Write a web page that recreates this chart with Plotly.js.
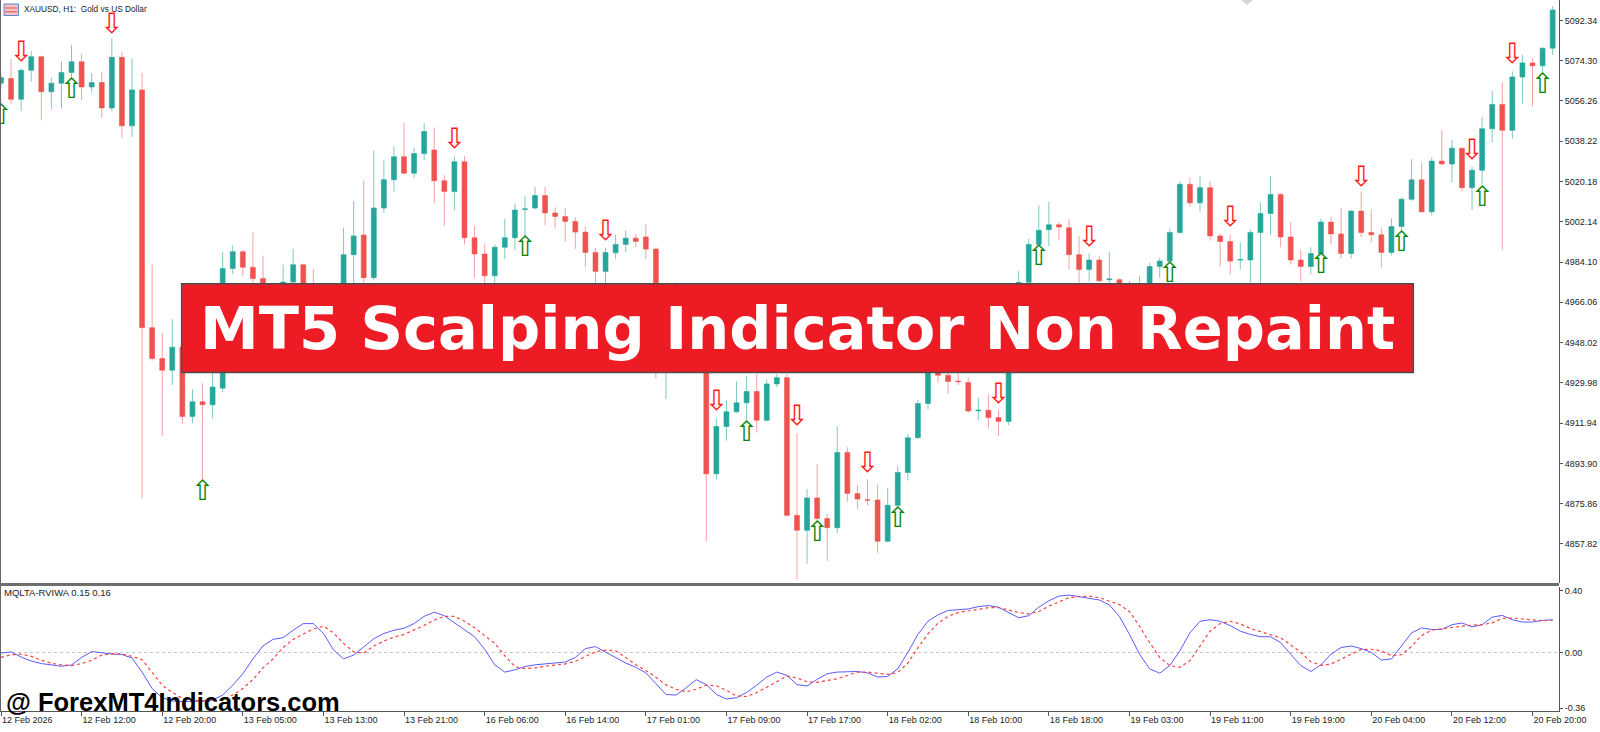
<!DOCTYPE html>
<html>
<head>
<meta charset="utf-8">
<script src="https://cdn.plot.ly/plotly-3.0.1.min.js"></script>
<style>
html, body { margin: 0; padding: 0; background: #fff; }
#chart { width: 1600px; height: 732px; }
</style>
</head>
<body>
<div id="chart"></div>
<script>
// XAUUSD H1 bars, bar 0 = first visible bar (12 Feb 2026)
var opens = [5064.2,5066.3,5057.0,5070.0,5076.1,5060.4,5064.2,5069.0,5073.8,5062.5,
 5064.5,5053.1,5075.8,5045.1,5061.2,4954.7,4940.9,4935.6,4945.9,4914.9,
 4921.5,4920.2,4927.6,4981.2,4988.7,4981.7,4976.7,4971.3,4968.0,4975.1,
 4982.9,4970.4,4965.0,4962.0,4966.0,4987.4,4996.2,4977.1,5008.3,5021.0,
 5031.3,5023.9,5032.7,5034.3,5020.5,5015.7,5029.0,4995.0,4987.7,4977.9,
 4990.7,4995.0,5007.6,5008.3,5013.9,5006.1,5004.5,5002.3,4997.5,4988.4,
 4979.9,4988.2,4992.0,4994.8,4995.3,4989.9,4952.0,4960.0,4970.0,4963.0,
 4958.0,4889.2,4910.4,4917.0,4921.0,4926.1,4913.2,4929.5,4932.3,4870.6,
 4863.9,4878.4,4869.2,4865.1,4898.8,4880.4,4877.6,4877.5,4859.0,4875.1,
 4889.8,4905.4,4920.7,4940.0,4933.4,4930.8,4930.1,4917.4,4917.7,4914.4,
 4912.7,4955.0,4975.0,4992.0,4998.6,5000.8,4999.5,4987.4,4980.7,4985.0,
 4976.2,4976.2,4966.0,4970.0,4967.0,4982.1,4984.5,4997.3,5018.9,5010.6,
 5017.4,4995.8,4993.3,4985.0,4985.0,4997.3,5005.8,5014.4,4995.3,4985.0,
 4982.1,4987.9,5002.0,4996.7,4987.9,5006.9,4997.3,4996.3,4988.4,5000.0,
 5012.2,5020.9,5006.6,5029.3,5028.0,5035.1,5017.4,5025.2,5043.8,5054.7,
 5043.1,5067.0,5073.3,5072.0,5079.9];
var highs = [5068.3,5075.0,5070.8,5078.6,5076.6,5066.7,5074.1,5081.3,5077.4,5068.8,
 5069.2,5084.4,5078.3,5075.3,5068.8,4982.9,4952.2,4958.5,4948.9,4927.0,
 4929.8,4935.6,4988.7,4991.7,4989.5,4997.3,4987.0,4974.0,4982.9,4990.0,
 4983.4,4980.9,4970.0,4974.6,4999.5,5011.4,5020.7,5034.0,5029.7,5036.0,
 5046.3,5035.1,5046.3,5044.3,5023.0,5031.3,5031.5,5000.3,4992.0,4992.0,
 5003.3,5010.3,5013.6,5017.7,5017.7,5008.6,5008.3,5004.0,5000.0,4990.4,
 4990.4,4996.5,4998.3,4996.7,5001.1,4990.7,4966.0,4975.0,4974.0,4968.0,
 4962.0,4914.0,4922.3,4930.6,4932.8,4933.9,4931.5,4933.9,4933.9,4907.4,
 4882.5,4893.6,4871.2,4910.4,4901.1,4884.2,4886.7,4884.5,4882.9,4892.8,
 4907.1,4922.3,4944.0,4945.0,4938.0,4934.0,4932.3,4923.2,4924.8,4917.7,
 4958.0,4980.0,4994.5,5009.4,5011.1,5002.0,5003.3,4995.7,4987.9,4986.7,
 4988.7,4976.7,4975.7,4977.9,4983.7,4985.9,4999.1,5020.2,5021.9,5022.4,
 5020.5,4996.6,4996.2,4992.8,4998.6,5010.6,5022.4,5014.9,5002.0,4989.5,
 4990.7,5003.6,5004.4,5008.3,5007.5,5015.6,5007.8,4999.5,5003.6,5013.0,
 5030.2,5028.5,5031.0,5043.1,5038.8,5035.3,5026.8,5049.2,5060.9,5064.7,
 5069.5,5076.9,5075.3,5080.2,5098.7];
var lows = [5061.7,5055.1,5051.7,5065.0,5047.6,5052.6,5052.9,5066.7,5056.7,5060.0,
 5048.7,5051.7,5039.8,5040.1,4878.4,4939.8,4906.1,4929.0,4911.6,4911.9,
 4886.7,4914.0,4925.7,4978.7,4977.9,4972.9,4966.0,4962.0,4965.0,4972.9,
 4966.0,4960.0,4956.0,4958.0,4962.0,4973.8,4970.0,4975.8,5006.1,5015.6,
 5023.5,5021.9,5029.7,5010.3,5000.3,5007.3,4992.0,4977.1,4972.1,4972.9,
 4985.4,4989.5,4995.8,5007.8,5000.6,4999.0,4993.3,4990.0,4981.7,4972.0,
 4972.0,4985.4,4988.7,4990.7,4985.4,4932.0,4922.7,4955.0,4958.0,4954.0,
 4859.0,4886.7,4904.1,4916.5,4913.2,4907.7,4913.0,4928.1,4870.0,4841.9,
 4849.0,4868.4,4850.2,4862.6,4876.7,4873.4,4875.1,4853.8,4858.5,4874.6,
 4886.2,4904.9,4918.2,4930.1,4925.1,4929.0,4916.5,4913.2,4909.4,4906.1,
 4911.0,4950.0,4972.0,4991.2,4991.2,4993.7,4980.7,4973.0,4975.4,4975.0,
 4970.0,4962.0,4962.0,4960.0,4964.0,4977.1,4984.0,4996.8,5008.9,5006.6,
 4993.7,4982.1,4978.4,4980.7,4972.0,4973.0,4996.2,4990.7,4982.9,4975.4,
 4978.7,4987.0,4992.0,4985.7,4985.7,4995.3,4992.8,4981.7,4987.0,4998.3,
 5011.5,5006.1,5005.0,5027.6,5019.7,5015.7,5007.3,5018.9,5037.6,4989.5,
 5039.3,5055.0,5053.9,5069.2,5076.9];
var closes = [5066.7,5057.0,5070.0,5076.1,5060.4,5064.2,5069.0,5073.8,5062.5,5064.5,
 5053.1,5075.8,5045.1,5061.2,4954.7,4940.9,4935.6,4945.9,4914.9,4921.5,
 4920.2,4928.1,4981.2,4988.7,4981.7,4976.7,4971.3,4968.0,4975.1,4982.9,
 4970.4,4965.0,4962.0,4966.0,4987.4,4995.8,4977.1,5008.3,5021.0,5031.3,
 5023.9,5032.7,5042.6,5020.5,5015.7,5029.0,4995.0,4987.7,4977.9,4990.7,
 4995.0,5007.4,5007.9,5013.9,5006.1,5004.5,5002.3,4997.5,4988.4,4979.9,
 4988.4,4992.0,4994.8,4993.3,4989.9,4952.0,4960.0,4970.0,4963.0,4958.0,
 4889.2,4910.4,4917.0,4921.0,4926.1,4913.2,4929.5,4932.3,4870.6,4863.9,
 4878.4,4869.2,4865.1,4898.8,4880.4,4877.9,4877.4,4859.0,4875.1,4889.8,
 4905.4,4920.7,4940.0,4933.4,4930.6,4930.5,4917.4,4917.7,4914.4,4912.7,
 4955.0,4975.0,4992.0,4998.3,5000.8,4999.8,4987.4,4980.7,4985.0,4975.7,
 4976.5,4968.0,4970.0,4967.0,4982.1,4984.5,4997.3,5018.9,5010.6,5017.4,
 4995.8,4993.3,4984.5,4985.2,4997.3,5005.8,5014.4,4995.3,4985.0,4982.1,
 4987.9,5002.0,4996.7,4987.9,5006.9,4997.3,4996.3,4988.4,5000.0,5012.2,
 5020.9,5006.6,5029.3,5028.0,5035.1,5017.4,5025.2,5043.8,5054.7,5043.1,
 5067.0,5073.3,5072.0,5079.9,5097.0];

// RVI indicator window (main line and signal line)
var rviMain = [-0.004,0.004,-0.030,-0.055,-0.072,-0.082,-0.089,-0.081,-0.032,0.006,
 -0.004,-0.010,-0.013,-0.036,-0.127,-0.234,-0.293,-0.314,-0.318,-0.318,
 -0.314,-0.308,-0.276,-0.212,-0.138,-0.042,0.042,0.085,0.096,0.144,
 0.187,0.187,0.123,0.017,-0.042,-0.017,0.038,0.089,0.123,0.144,
 0.157,0.187,0.234,0.261,0.238,0.191,0.149,0.102,0.021,-0.079,
 -0.127,-0.113,-0.091,-0.080,-0.074,-0.068,-0.062,-0.032,0.025,0.038,
 0.004,-0.032,-0.068,-0.096,-0.132,-0.202,-0.272,-0.276,-0.229,-0.176,
 -0.208,-0.272,-0.301,-0.293,-0.259,-0.212,-0.159,-0.127,-0.149,-0.208,
 -0.217,-0.174,-0.138,-0.127,-0.127,-0.123,-0.132,-0.159,-0.155,-0.106,
 0.000,0.117,0.202,0.244,0.272,0.276,0.282,0.297,0.304,0.293,
 0.259,0.225,0.238,0.293,0.335,0.365,0.372,0.361,0.350,0.340,
 0.308,0.234,0.117,-0.011,-0.106,-0.134,-0.085,0.011,0.127,0.202,
 0.212,0.202,0.174,0.138,0.117,0.102,0.102,0.064,-0.011,-0.085,
 -0.123,-0.081,-0.011,0.032,0.042,0.025,0.000,-0.049,-0.042,0.042,
 0.127,0.159,0.149,0.149,0.180,0.191,0.166,0.180,0.229,0.240,
 0.212,0.197,0.197,0.208,0.212];
var rviSignal = [-0.032,-0.015,-0.011,-0.025,-0.050,-0.070,-0.080,-0.085,-0.072,-0.050,
 -0.017,-0.008,-0.010,-0.025,-0.047,-0.127,-0.212,-0.259,-0.297,-0.308,
 -0.315,-0.314,-0.308,-0.276,-0.234,-0.175,-0.100,-0.042,0.032,0.085,
 0.117,0.153,0.170,0.127,0.059,0.004,-0.004,0.042,0.074,0.100,
 0.117,0.144,0.175,0.210,0.234,0.234,0.202,0.160,0.110,0.059,
 -0.021,-0.091,-0.105,-0.100,-0.089,-0.080,-0.074,-0.058,-0.025,0.005,
 0.015,0.011,-0.032,-0.079,-0.117,-0.160,-0.210,-0.238,-0.255,-0.238,
 -0.212,-0.215,-0.245,-0.282,-0.285,-0.260,-0.225,-0.191,-0.153,-0.165,
 -0.190,-0.193,-0.180,-0.170,-0.149,-0.127,-0.127,-0.136,-0.142,-0.130,
 -0.070,0.030,0.120,0.190,0.234,0.259,0.270,0.278,0.290,0.291,
 0.275,0.259,0.250,0.265,0.300,0.330,0.355,0.362,0.365,0.355,
 0.330,0.310,0.265,0.170,0.064,-0.032,-0.085,-0.096,-0.053,0.042,
 0.138,0.187,0.202,0.185,0.155,0.135,0.117,0.095,0.050,0.000,
 -0.060,-0.083,-0.075,-0.045,-0.011,0.020,0.021,0.010,-0.020,-0.015,
 0.040,0.110,0.145,0.155,0.162,0.170,0.177,0.180,0.192,0.220,
 0.223,0.218,0.212,0.206,0.208];

// signal arrows: bar index and price level
var sellBars = [2, 11, 45, 60, 71, 79, 86, 99, 108, 122, 135, 146, 150];
var sellLevels = [5077.4, 5089.8, 5038.1, 4997.3, 4921.0, 4914.0, 4893.3, 4924.3, 4994.5, 5003.3, 5021.5, 5033.5, 5076.3];
var buyBars = [0, 7, 20, 52, 74, 81, 89, 103, 116, 131, 139, 147, 153];
var buyLevels = [5049.2, 5060.5, 4880.5, 4990.0, 4907.1, 4862.3, 4868.4, 4985.9, 4978.2, 4982.4, 4992.3, 5012.4, 5063.0];

var timeTickBars = [0, 8, 16, 24, 32, 40, 48, 56, 64, 72, 80, 88, 96, 104, 112, 120, 128, 136, 144, 152];
var timeTickLabels = ['12 Feb 2026', '12 Feb 12:00', '12 Feb 20:00', '13 Feb 05:00', '13 Feb 13:00',
  '13 Feb 21:00', '16 Feb 06:00', '16 Feb 14:00', '17 Feb 01:00', '17 Feb 09:00', '17 Feb 17:00',
  '18 Feb 02:00', '18 Feb 10:00', '18 Feb 18:00', '19 Feb 03:00', '19 Feb 11:00', '19 Feb 19:00',
  '20 Feb 04:00', '20 Feb 12:00', '20 Feb 20:00'];
var priceTicks = [5092.34, 5074.30, 5056.26, 5038.22, 5020.18, 5002.14, 4984.10, 4966.06,
  4948.02, 4929.98, 4911.94, 4893.90, 4875.86, 4857.82];
var rviTicks = [0.40, 0.00, -0.36];

var bars = opens.map(function (o, i) { return i; });

var tickFont = {family: 'Liberation Sans, Arial, sans-serif', size: 9, color: '#222'};

var candles = {
  type: 'candlestick',
  x: bars, open: opens, high: highs, low: lows, close: closes,
  xaxis: 'x', yaxis: 'y',
  increasing: {line: {color: 'rgba(38,166,154,0.6)', width: 1}, fillcolor: '#26a69a'},
  decreasing: {line: {color: 'rgba(239,83,80,0.55)', width: 1}, fillcolor: '#ef5350'},
  hoverinfo: 'skip'
};

var sellArrows = {
  type: 'scatter', mode: 'text',
  x: sellBars, y: sellLevels,
  text: sellBars.map(function () { return '\u21E9'; }),
  textposition: 'middle center',
  textfont: {family: 'DejaVu Sans', size: 28, color: '#ff1a1a'},
  xaxis: 'x', yaxis: 'y', hoverinfo: 'skip'
};

var buyArrows = {
  type: 'scatter', mode: 'text',
  x: buyBars, y: buyLevels,
  text: buyBars.map(function () { return '\u21E7'; }),
  textposition: 'middle center',
  textfont: {family: 'DejaVu Sans', size: 28, color: '#0a840a'},
  xaxis: 'x', yaxis: 'y', hoverinfo: 'skip'
};

var mainLine = {
  type: 'scatter', mode: 'lines',
  x: bars, y: rviMain,
  line: {color: '#5a5aff', width: 1},
  xaxis: 'x', yaxis: 'y2', hoverinfo: 'skip'
};

var signalLine = {
  type: 'scatter', mode: 'lines',
  x: bars, y: rviSignal,
  line: {color: '#ff4040', width: 1.2, dash: 'dot'},
  xaxis: 'x', yaxis: 'y2', hoverinfo: 'skip'
};

var W = 1559, H = 711; // plot area in pixels
function px(x) { return x / W; }
function py(y) { return 1 - y / H; }

var layout = {
  width: 1600, height: 732,
  margin: {l: 0, r: 41, t: 0, b: 21},
  paper_bgcolor: '#ffffff', plot_bgcolor: '#ffffff',
  showlegend: false,
  xaxis: {
    range: [-0.1, 154.63], anchor: 'y2',
    tickvals: timeTickBars, ticktext: timeTickLabels,
    ticks: 'outside', ticklen: 4, tickcolor: '#555',
    ticklabelposition: 'outside right',
    tickfont: tickFont,
    showgrid: false, zeroline: false,
    showline: true, linecolor: '#555', linewidth: 1,
    rangeslider: {visible: false}, fixedrange: true
  },
  yaxis: {
    domain: [py(583), 1], range: [4840.3, 5101.48],
    side: 'right', anchor: 'x',
    tickvals: priceTicks, ticktext: priceTicks.map(function (v) { return v.toFixed(2); }),
    ticks: 'outside', ticklen: 3, tickcolor: '#555',
    tickfont: tickFont,
    showgrid: false, zeroline: false,
    showline: true, linecolor: '#555', linewidth: 1, fixedrange: true
  },
  yaxis2: {
    domain: [0, py(587)], range: [-0.379, 0.424],
    side: 'right', anchor: 'x',
    tickvals: rviTicks, ticktext: rviTicks.map(function (v) { return v.toFixed(2); }),
    ticks: 'outside', ticklen: 3, tickcolor: '#555',
    tickfont: tickFont,
    showgrid: false, zeroline: false,
    showline: true, linecolor: '#555', linewidth: 1, fixedrange: true
  },
  shapes: [
    // zero level of the indicator
    {type: 'line', xref: 'paper', yref: 'y2', x0: 0, x1: 1, y0: 0, y1: 0,
     line: {color: '#c4c4c4', width: 1, dash: 'dot'}, layer: 'below'},
    // left frame and pane separator
    {type: 'line', xref: 'paper', yref: 'paper', x0: 0, x1: 0, y0: 0, y1: 1,
     line: {color: '#666', width: 2}},
    {type: 'line', xref: 'paper', yref: 'paper', x0: 0, x1: 1, y0: py(584.5), y1: py(584.5),
     line: {color: '#6e6e6e', width: 3}},
    // chart-shift marker at top
    {type: 'path', xref: 'paper', yref: 'paper',
     path: 'M ' + px(1241) + ' ' + py(0) + ' L ' + px(1253) + ' ' + py(0) + ' L ' + px(1247) + ' ' + py(5) + ' Z',
     fillcolor: '#d6d6d6', line: {width: 0}},
    // symbol icon next to the title
    {type: 'rect', xref: 'paper', yref: 'paper', x0: px(4), x1: px(18.5), y0: py(15.5), y1: py(4),
     fillcolor: '#f4c4c4', line: {color: '#5b87c5', width: 1}},
    {type: 'line', xref: 'paper', yref: 'paper', x0: px(5), x1: px(17.5), y0: py(8), y1: py(8),
     line: {color: '#e05050', width: 1}},
    {type: 'line', xref: 'paper', yref: 'paper', x0: px(5), x1: px(17.5), y0: py(11.8), y1: py(11.8),
     line: {color: '#e05050', width: 1}},
    // banner
    {type: 'rect', xref: 'paper', yref: 'paper', x0: px(181.6), x1: px(1413.3), y0: py(372.4), y1: py(283.7),
     fillcolor: '#ed1c24', line: {color: '#4d4d4d', width: 1.5}}
  ],
  annotations: [
    {xref: 'paper', yref: 'paper', x: px(797.5), y: py(328.5), xanchor: 'center', yanchor: 'middle',
     text: '<b>MT5 Scalping Indicator Non Repaint</b>', showarrow: false,
     font: {family: 'DejaVu Sans', size: 59, color: '#ffffff'}},
    {xref: 'paper', yref: 'paper', x: px(22.4), y: py(8.5), xanchor: 'left', yanchor: 'middle',
     text: 'XAUUSD, H1:\u00a0 Gold vs US Dollar', showarrow: false,
     font: {family: 'Liberation Sans, Arial, sans-serif', size: 8.3, color: '#222'}},
    {xref: 'paper', yref: 'paper', x: px(2), y: py(592), xanchor: 'left', yanchor: 'middle',
     text: 'MQLTA-RVIWA 0.15 0.16', showarrow: false,
     font: {family: 'Liberation Sans, Arial, sans-serif', size: 9.5, color: '#222'}},
    {xref: 'paper', yref: 'paper', x: px(4), y: py(702), xanchor: 'left', yanchor: 'middle',
     text: '<b>@ ForexMT4Indicators.com</b>', showarrow: false,
     font: {family: 'Liberation Sans, Arial, sans-serif', size: 25.5, color: '#000000'}}
  ]
};

Plotly.newPlot('chart', [candles, sellArrows, buyArrows, mainLine, signalLine], layout,
  {displayModeBar: false, staticPlot: true});
</script>
</body>
</html>
